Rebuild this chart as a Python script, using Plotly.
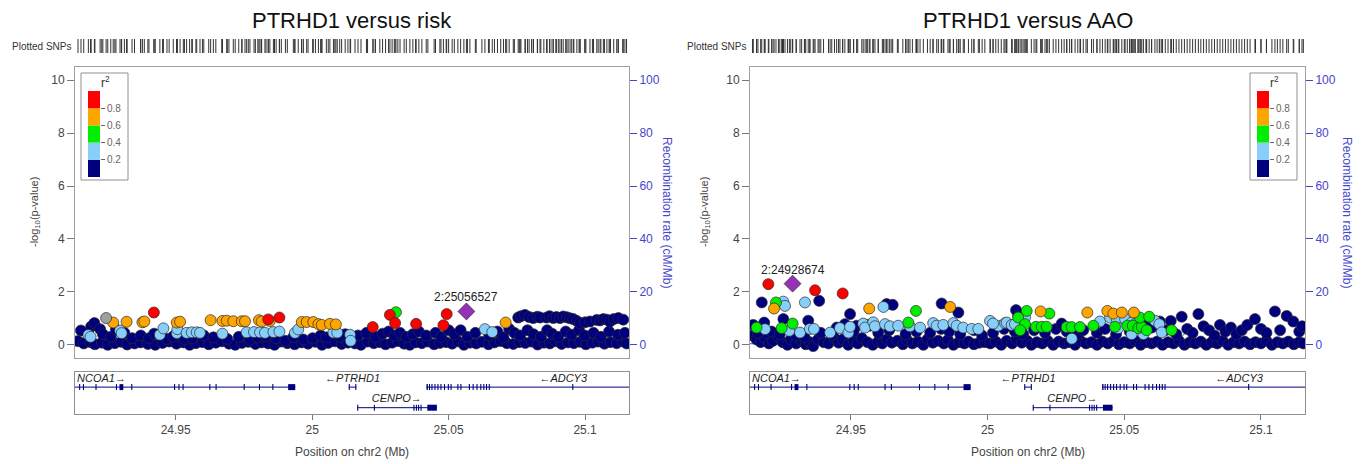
import plotly.graph_objects as go

# ---------------------------------------------------------------- data
X_RANGE = [24.9131, 25.1161]
P_RANGE = [-0.5, 10.5]
RECOMB_RANGE = [-5, 105]
P_TICKS = [0, 2, 4, 6, 8, 10]
RECOMB_TICKS = [0, 20, 40, 60, 80, 100]
POS_TICKS = [24.95, 25.0, 25.05, 25.1]
POS_TICK_TEXT = ["24.95", "25", "25.05", "25.1"]
R2_BREAKS = [0.2, 0.4, 0.6, 0.8]
R2_BREAK_TEXT = ["0.2", "0.4", "0.6", "0.8"]

# recombination rate (cM/Mb)
RECOMB = [(24.9100, 0.4), (24.9300, 0.3), (24.9500, 0.5), (24.9750, 0.3), (25.0000, 0.4),
          (25.0250, 0.6), (25.0500, 0.5), (25.0680, 0.6), (25.0715, 3.5), (25.0736, 6.3),
          (25.0755, 3.0), (25.0790, 0.7), (25.0930, 0.8), (25.0965, 2.0), (25.1000, 0.7),
          (25.1200, 0.5)]

# ---- PTRHD1 versus risk : (position Mb, -log10 p)
RISK_NAVY = [
    (24.9142, 0.14), (24.9163, 0.05), (24.9188, 0.10), (24.9204, 0.02), (24.9229, 0.08), (24.9251, 0.00), (24.9277, 0.06), (24.9301, 0.11), (24.9322, 0.01), (24.9349, 0.05),
    (24.9371, 0.09), (24.9398, 0.03), (24.9425, 0.00), (24.9452, 0.07), (24.9476, 0.12), (24.9503, 0.04), (24.9528, 0.09), (24.9551, 0.00), (24.9574, 0.06), (24.9598, 0.10),
    (24.9621, 0.02), (24.9647, 0.08), (24.9669, 0.13), (24.9695, 0.04), (24.9718, 0.00), (24.9743, 0.07), (24.9766, 0.11), (24.9792, 0.03), (24.9814, 0.09), (24.9839, 0.05),
    (24.9862, 0.00), (24.9887, 0.12), (24.9909, 0.06), (24.9936, 0.02), (24.9961, 0.09), (24.9985, 0.04), (25.0012, 0.11), (25.0036, 0.00), (25.0059, 0.07), (25.0083, 0.13),
    (25.0108, 0.03), (25.0131, 0.08), (25.0157, 0.05), (25.0179, 0.00), (25.0203, 0.12), (25.0226, 0.06), (25.0248, 0.10), (25.0269, 0.02), (25.0293, 0.08), (25.0314, 0.14),
    (25.0337, 0.04), (25.0358, 0.00), (25.0379, 0.09), (25.0402, 0.06), (25.0424, 0.12), (25.0447, 0.02), (25.0468, 0.07), (25.0491, 0.10), (25.0513, 0.04), (25.0534, 0.13),
    (25.0556, 0.00), (25.0578, 0.08), (25.0601, 0.05), (25.0622, 0.11), (25.0646, 0.02), (25.0668, 0.09), (25.0691, 0.14), (25.0713, 0.06), (25.0737, 0.03), (25.0759, 0.10),
    (25.0781, 0.07), (25.0804, 0.12), (25.0826, 0.01), (25.0849, 0.08), (25.0871, 0.05), (25.0893, 0.13), (25.0914, 0.03), (25.0938, 0.09), (25.0959, 0.06), (25.0982, 0.11),
    (25.1003, 0.02), (25.1027, 0.08), (25.1048, 0.12), (25.1071, 0.04), (25.1093, 0.10), (25.1116, 0.06), (25.1138, 0.13), (25.1152, 0.05),
    (24.9153, 0.54), (24.9190, 0.69), (24.9202, 0.82), (24.9223, 0.59), (24.9233, 0.40), (24.9262, 0.30), (24.9281, 0.57), (24.9312, 0.45), (24.9340, 0.25), (24.9372, 0.35),
    (24.9402, 0.25), (24.9421, 0.42), (24.9468, 0.22), (24.9491, 0.32), (24.9532, 0.20), (24.9561, 0.25), (24.9603, 0.35), (24.9638, 0.28), (24.9689, 0.22), (24.9731, 0.30),
    (24.9772, 0.18), (24.9801, 0.28), (24.9831, 0.32), (24.9868, 0.25), (24.9902, 0.15), (24.9931, 0.30), (24.9968, 0.20), (25.0002, 0.25), (25.0031, 0.35), (25.0052, 0.28),
    (25.0101, 0.30), (25.0121, 0.40), (25.0168, 0.35), (25.0199, 0.45), (25.0232, 0.30), (25.0258, 0.42), (25.0280, 0.50), (25.0301, 0.35), (25.0322, 0.45), (25.0345, 0.30),
    (25.0369, 0.40), (25.0391, 0.50), (25.0418, 0.35), (25.0452, 0.45), (25.0472, 0.30), (25.0500, 0.55), (25.0521, 0.40), (25.0544, 0.55), (25.0569, 0.30), (25.0598, 0.45),
    (25.0649, 0.35), (25.0679, 0.50), (25.0701, 0.28), (25.0722, 0.60), (25.0741, 0.45), (25.0762, 0.35), (25.0789, 0.55), (25.0811, 0.40), (25.0838, 0.30), (25.0861, 0.55),
    (25.0879, 0.42), (25.0902, 0.30), (25.0929, 0.50), (25.0951, 0.38), (25.0978, 0.55), (25.0999, 0.35), (25.1031, 0.45), (25.1058, 0.30), (25.1088, 0.50), (25.1121, 0.38),
    (25.1146, 0.45),
    (25.0755, 1.03), (25.0765, 1.08), (25.0780, 1.13), (25.0795, 1.05), (25.0810, 1.01), (25.0825, 1.06), (25.0835, 1.03), (25.0859, 1.03), (25.0870, 1.08), (25.0884, 1.01),
    (25.0895, 1.05), (25.0908, 1.01), (25.0920, 1.07), (25.0933, 1.04), (25.0945, 1.00), (25.0957, 0.97), (25.0970, 0.90), (25.0981, 0.82), (25.1000, 0.85), (25.1018, 0.88),
    (25.1043, 0.94), (25.1055, 0.92), (25.1067, 0.97), (25.1080, 0.95), (25.1091, 0.88), (25.1105, 0.97), (25.1122, 1.01), (25.1140, 0.95),
]
RISK_LIGHTBLUE = [
    (24.9180, 0.37), (24.9188, 0.30), (24.9296, 0.54), (24.9302, 0.44), (24.9442, 0.38), (24.9455, 0.62), (24.9504, 0.44), (24.9506, 0.59), (24.9540, 0.45), (24.9559, 0.47),
    (24.9577, 0.47), (24.9589, 0.45), (24.9671, 0.42), (24.9760, 0.47), (24.9787, 0.48), (24.9809, 0.47), (24.9827, 0.45), (24.9858, 0.48), (24.9880, 0.50), (24.9937, 0.45),
    (24.9949, 0.58), (25.0078, 0.46), (25.0092, 0.46), (25.0139, 0.38), (25.0141, 0.15), (25.0633, 0.59), (25.0660, 0.48),
]
RISK_GREEN = [(25.0307, 1.23)]
RISK_ORANGE = [
    (24.9271, 0.84), (24.9320, 0.87), (24.9378, 0.85), (24.9385, 0.88), (24.9504, 0.84), (24.9516, 0.87), (24.9628, 0.93), (24.9671, 0.90), (24.9687, 0.91), (24.9711, 0.89),
    (24.9742, 0.89), (24.9754, 0.89), (24.9805, 0.93), (24.9815, 0.88), (24.9845, 0.90), (24.9962, 0.86), (24.9980, 0.86), (25.0004, 0.86), (25.0023, 0.78), (25.0035, 0.75),
    (25.0065, 0.79), (25.0087, 0.77), (25.0709, 0.84),
]
RISK_RED = [(24.9420, 1.22), (24.9839, 0.96), (24.9880, 1.03), (25.0222, 0.67), (25.0285, 1.13),
            (25.0304, 0.82), (25.0381, 0.79), (25.0493, 1.16), (25.0481, 0.74)]
RISK_NA = [(24.9245, 1.01)]
RISK_LEAD = [(25.056527, 1.26)]
RISK_LEAD_LABEL = "2:25056527"

# ---- PTRHD1 versus AAO
AAO_NAVY = [
    (24.9140, 0.35), (24.9155, 0.20), (24.9170, 0.10), (24.9185, 0.25), (24.9200, 0.05), (24.9215, 0.15), (24.9235, 0.30), (24.9250, 0.10), (24.9268, 0.00), (24.9280, 0.20),
    (24.9300, 0.05), (24.9320, 0.15), (24.9335, 0.02), (24.9350, 0.10), (24.9362, -0.05), (24.9380, 0.20), (24.9400, 0.10), (24.9418, 0.05), (24.9440, 0.25), (24.9455, 0.08),
    (24.9470, 0.20), (24.9490, 0.00), (24.9510, 0.15), (24.9525, 0.05), (24.9540, 0.25), (24.9560, 0.10), (24.9580, 0.00), (24.9600, 0.12), (24.9615, 0.05), (24.9632, 0.20),
    (24.9650, 0.08), (24.9670, 0.15), (24.9690, 0.02), (24.9705, 0.18), (24.9725, 0.05), (24.9745, 0.12), (24.9765, 0.00), (24.9780, 0.20), (24.9800, 0.08), (24.9820, 0.15),
    (24.9840, 0.05), (24.9855, 0.18), (24.9875, 0.00), (24.9895, 0.10), (24.9915, 0.05), (24.9930, 0.12), (24.9950, 0.02), (24.9970, 0.08), (24.9990, 0.10), (25.0010, 0.05),
    (25.0030, 0.12), (25.0050, 0.00), (25.0070, 0.15), (25.0090, 0.05), (25.0105, 0.20), (25.0125, 0.08), (25.0145, 0.15), (25.0160, 0.00), (25.0180, 0.10), (25.0200, 0.05),
    (25.0220, 0.15), (25.0240, 0.00), (25.0260, 0.12), (25.0280, 0.05), (25.0300, 0.10), (25.0320, 0.00), (25.0340, 0.15), (25.0360, 0.05), (25.0380, 0.10), (25.0400, 0.00),
    (25.0420, 0.12), (25.0440, 0.05), (25.0460, 0.15), (25.0480, 0.02), (25.0500, 0.10), (25.0520, 0.05), (25.0540, 0.15), (25.0560, 0.00), (25.0580, 0.10), (25.0600, 0.05),
    (25.0620, 0.12), (25.0640, 0.00), (25.0660, 0.10), (25.0680, 0.05), (25.0700, 0.15), (25.0720, 0.00), (25.0740, 0.10), (25.0760, 0.05), (25.0780, 0.12), (25.0800, 0.00),
    (25.0820, 0.10), (25.0840, 0.05), (25.0860, 0.15), (25.0880, 0.00), (25.0900, 0.10), (25.0920, 0.05), (25.0940, 0.12), (25.0960, 0.02), (25.0980, 0.10), (25.1000, 0.05),
    (25.1020, 0.15), (25.1040, 0.00), (25.1060, 0.10), (25.1080, 0.05), (25.1100, 0.12), (25.1120, 0.02), (25.1140, 0.10), (25.1155, 0.05),
    (24.9143, 0.75), (24.9183, 0.84), (24.9253, 0.97), (24.9344, 0.91), (24.9448, 0.65), (24.9478, 0.78), (24.9521, 0.72), (24.9558, 0.75), (24.9570, 0.72), (24.9160, 0.45),
    (24.9210, 0.50), (24.9240, 0.40), (24.9300, 0.35), (24.9330, 0.30), (24.9390, 0.45), (24.9430, 0.38), (24.9510, 0.50), (24.9600, 0.45), (24.9640, 0.55), (24.9700, 0.40),
    (24.9740, 0.50), (24.9790, 0.45), (24.9830, 0.60), (24.9860, 0.50), (24.9900, 0.40), (24.9950, 0.55), (24.9980, 0.35), (25.0020, 0.45), (25.0060, 0.60), (25.0100, 0.50),
    (25.0130, 0.40), (25.0170, 0.55), (25.0210, 0.45), (25.0250, 0.60), (25.0271, 0.80), (25.0290, 0.50), (25.0330, 0.40), (25.0350, 0.55), (25.0400, 0.45), (25.0430, 0.60),
    (25.0470, 0.40), (25.0520, 0.50), (25.0550, 0.85), (25.0580, 0.80), (25.0600, 0.65), (25.0630, 0.88), (25.0650, 0.55), (25.0670, 0.90), (25.0690, 0.40), (25.0710, 1.06),
    (25.0730, 0.60), (25.0750, 0.45), (25.0771, 1.16), (25.0790, 0.70), (25.0810, 0.55), (25.0830, 0.35), (25.0850, 0.75), (25.0870, 0.50), (25.0890, 0.65), (25.0910, 0.40),
    (25.0930, 0.55), (25.0950, 0.75), (25.0978, 0.97), (25.1000, 0.60), (25.1020, 0.45), (25.1051, 1.26), (25.1070, 0.55), (25.1094, 1.09), (25.1118, 0.88), (25.1140, 0.50),
    (25.1150, 0.70),
    (24.9174, 1.60), (24.9384, 1.66), (24.9497, 1.16), (24.9631, 1.54), (24.9653, 1.51), (24.9832, 1.56), (24.9893, 1.22), (25.0104, 1.31), (25.0112, 1.09),
]
AAO_LIGHTBLUE = [
    (24.9186, 0.59), (24.9253, 1.63), (24.9259, 1.47), (24.9332, 1.60), (24.9619, 1.43), (24.9275, 0.53), (24.9314, 0.46), (24.9350, 0.60), (24.9365, 0.60), (24.9424, 0.46),
    (24.9460, 0.63), (24.9491, 0.46), (24.9497, 0.68), (24.9545, 0.80), (24.9552, 0.65), (24.9582, 0.85), (24.9588, 0.70), (24.9625, 0.78), (24.9643, 0.70), (24.9673, 0.72),
    (24.9716, 0.70), (24.9753, 0.65), (24.9801, 0.82), (24.9814, 0.72), (24.9838, 0.75), (24.9875, 0.82), (24.9887, 0.72), (24.9911, 0.65), (24.9942, 0.60), (24.9966, 0.60),
    (25.0009, 0.90), (25.0039, 0.72), (25.0064, 0.82), (25.0070, 0.84), (25.0088, 0.75), (25.0100, 0.78), (25.0137, 1.03), (25.0020, 0.80), (25.0411, 0.88), (25.0448, 1.03),
    (25.0472, 0.97), (25.0503, 0.97), (25.0527, 0.84), (25.0539, 0.78), (25.0612, 0.91), (25.0628, 0.78), (25.0637, 0.47), (25.0570, 0.40), (25.0527, 0.40), (25.0478, 0.63),
    (25.0308, 0.23),
]
AAO_GREEN = [
    (24.9226, 1.60), (24.9155, 0.65), (24.9247, 0.63), (24.9287, 0.80), (24.9738, 1.28), (24.9710, 0.84), (25.0143, 1.28), (25.0112, 1.03), (25.0137, 0.78), (25.0119, 0.55),
    (25.0226, 1.18), (25.0177, 0.68), (25.0198, 0.68), (25.0216, 0.68), (25.0289, 0.67), (25.0307, 0.67), (25.0338, 0.67), (25.0387, 0.72), (25.0466, 0.68), (25.0511, 0.72),
    (25.0531, 0.72), (25.0551, 0.63), (25.0564, 0.68), (25.0582, 0.55), (25.0557, 1.03), (25.0591, 1.06), (25.0673, 0.55),
]
AAO_ORANGE = [(24.9219, 1.37), (24.9567, 1.37), (24.9863, 1.43), (25.0194, 1.26), (25.0365, 1.22),
              (25.0438, 1.28), (25.0460, 1.18), (25.0491, 1.22), (25.0535, 1.22)]
AAO_RED = [(24.9198, 2.29), (24.9369, 2.06), (24.9470, 1.94)]
AAO_NA = []
AAO_LEAD = [(24.928674, 2.31)]
AAO_LEAD_LABEL = "2:24928674"

# ---- genes (Mb)
GENE_NAMES = ["NCOA1", "PTRHD1", "ADCY3", "CENPO"]
GENE_LABELS = ["NCOA1\u2192", "\u2190PTRHD1", "\u2190ADCY3", "CENPO\u2192"]
GENE_START = [24.9100, 25.0134, 25.0419, 25.0166]
GENE_END = [24.9938, 25.0162, 25.1250, 25.0457]
GENE_ROW = [1, 1, 1, 2]
GENE_LABEL_POS = [24.9228, 25.0148, 25.0920, 25.0310]
EXONS = [  # (gene index, start, end)
    (0, 24.9146, 24.9150), (0, 24.9160, 24.9164), (0, 24.9206, 24.9210), (0, 24.9281, 24.9285), (0, 24.9294, 24.9308),
    (0, 24.9337, 24.9341), (0, 24.9494, 24.9498), (0, 24.9510, 24.9514), (0, 24.9525, 24.9529), (0, 24.9623, 24.9627),
    (0, 24.9646, 24.9650), (0, 24.9749, 24.9753), (0, 24.9805, 24.9809), (0, 24.9854, 24.9858), (0, 24.9912, 24.9938),
    (1, 25.0134, 25.0138), (1, 25.0158, 25.0162),
    (2, 25.0419, 25.0424), (2, 25.0428, 25.0432), (2, 25.0437, 25.0441), (2, 25.0448, 25.0452), (2, 25.0459, 25.0463),
    (2, 25.0470, 25.0474), (2, 25.0483, 25.0487), (2, 25.0497, 25.0501), (2, 25.0507, 25.0511), (2, 25.0532, 25.0536),
    (2, 25.0543, 25.0547), (2, 25.0574, 25.0578), (2, 25.0588, 25.0592), (2, 25.0602, 25.0606), (2, 25.0616, 25.0620),
    (2, 25.0627, 25.0631), (2, 25.0637, 25.0641), (2, 25.0647, 25.0651), (2, 25.0953, 25.0957),
    (3, 25.0165, 25.0169), (3, 25.0226, 25.0230), (3, 25.0371, 25.0375), (3, 25.0380, 25.0384), (3, 25.0388, 25.0392),
    (3, 25.0397, 25.0401), (3, 25.0422, 25.0457),
]

# ---------------------------------------------------------------- style
FONT = "Liberation Sans, Arial, Helvetica, sans-serif"
W, H = 1364, 464
NAVY = "#00007F"
CLASS_COLORS = ["#00007F", "#87CEFA", "#00EE00", "#FFA500", "#FF0000"]
NA_COLOR = "#A0A0A0"
LEAD_COLOR = "#9632B8"
RECOMB_COLOR = "#4646CC"
FRAME = "#A0A0A0"
TEXT = "#444444"


def fx(px):
    return px / W


def fy(py):
    return 1 - py / H


def unzip(pairs):
    return [p[0] for p in pairs], [p[1] for p in pairs]


PANELS = [
    dict(title="PTRHD1 versus risk", left=75, right=629, legend_left=81, bar_left=88,
         ylab_px=35, rlab_px=667,
         classes=[RISK_NAVY, RISK_LIGHTBLUE, RISK_GREEN, RISK_ORANGE, RISK_RED],
         na=RISK_NA, lead=RISK_LEAD, lead_label=RISK_LEAD_LABEL),
    dict(title="PTRHD1 versus AAO", left=750, right=1305, legend_left=1250, bar_left=1257,
         ylab_px=705, rlab_px=1347,
         classes=[AAO_NAVY, AAO_LIGHTBLUE, AAO_GREEN, AAO_ORANGE, AAO_RED],
         na=AAO_NA, lead=AAO_LEAD, lead_label=AAO_LEAD_LABEL),
]

MAIN_DOM = [fy(358), fy(67)]
GENE_DOM = [fy(414), fy(372)]
RUG_DOM = [fy(53), fy(39)]
LEG_DOM = [fy(177), fy(91)]
ROW_Y = {1: 0.64, 2: 0.15}
ROW_LABEL_Y = {1: 0.83, 2: 0.34}


def ax(n, kind):
    return kind if n == 1 else f"{kind}{n}"


def lay(n, kind):
    return f"{kind}axis" if n == 1 else f"{kind}axis{n}"


def note(x, y, text, size, color, **kw):
    d = dict(x=x, y=y, xref="paper", yref="paper", text=text, showarrow=False,
             xanchor="center", yanchor="middle", font=dict(size=size, color=color))
    d.update(kw)
    return d


fig = go.Figure()
layout = dict(width=W, height=H, margin=dict(l=0, r=0, t=0, b=0),
              paper_bgcolor="white", plot_bgcolor="white", showlegend=False,
              barmode="overlay", font=dict(family=FONT, color=TEXT),
              annotations=[], shapes=[])

for i, P in enumerate(PANELS):
    b = i * 5
    xm, yr, yp, xg, xr, xl = b + 1, b + 1, b + 2, b + 3, b + 4, b + 5
    xdom = [fx(P["left"]), fx(P["right"])]

    layout[lay(xm, "x")] = dict(domain=xdom, range=X_RANGE, anchor=ax(yr, "y"), showline=True, mirror=True,
                                linecolor=FRAME, linewidth=1, showticklabels=False, ticks="",
                                showgrid=False, zeroline=False)
    layout[lay(yr, "y")] = dict(domain=MAIN_DOM, range=RECOMB_RANGE, anchor=ax(xm, "x"), side="right",
                                tickvals=RECOMB_TICKS, ticks="outside", ticklen=7, tickcolor=RECOMB_COLOR,
                                tickfont=dict(size=12, color=RECOMB_COLOR), showline=True, linecolor=FRAME,
                                showgrid=False, zeroline=False)
    layout[lay(yp, "y")] = dict(range=P_RANGE, overlaying=ax(yr, "y"), anchor=ax(xm, "x"), side="left",
                                tickvals=P_TICKS, ticks="outside", ticklen=7, tickcolor="#777",
                                tickfont=dict(size=12, color=TEXT), showline=True, linecolor=FRAME,
                                showgrid=False, zeroline=False)
    layout[lay(xg, "x")] = dict(domain=xdom, range=X_RANGE, anchor=ax(xg, "y"), tickvals=POS_TICKS,
                                ticktext=POS_TICK_TEXT, ticks="outside", ticklen=5, tickcolor="#777",
                                tickfont=dict(size=12, color=TEXT), showline=True, mirror=True,
                                linecolor="#909090", showgrid=False, zeroline=False)
    layout[lay(xg, "y")] = dict(domain=GENE_DOM, range=[0, 1], anchor=ax(xg, "x"), showticklabels=False,
                                ticks="", showline=True, mirror=True, linecolor="#909090",
                                showgrid=False, zeroline=False)
    layout[lay(xr, "x")] = dict(domain=xdom, range=X_RANGE, anchor=ax(xr, "y"), visible=False)
    layout[lay(xr, "y")] = dict(domain=RUG_DOM, range=[0, 1], anchor=ax(xr, "x"), visible=False)
    layout[lay(xl, "x")] = dict(domain=[fx(P["bar_left"]), fx(P["bar_left"] + 12)], range=[-0.5, 0.5],
                                anchor=ax(xl, "y"), visible=False)
    layout[lay(xl, "y")] = dict(domain=LEG_DOM, range=[0, 1], anchor=ax(xl, "x"), side="right",
                                tickvals=R2_BREAKS, ticktext=R2_BREAK_TEXT, ticks="outside", ticklen=4,
                                tickcolor="#666", tickfont=dict(size=10, color="#666"),
                                showline=False, showgrid=False, zeroline=False)

    # recombination rate
    rx, ry = unzip(RECOMB)
    fig.add_trace(go.Scatter(x=rx, y=ry, mode="lines", line=dict(color=RECOMB_COLOR, width=1),
                             xaxis=ax(xm, "x"), yaxis=ax(yr, "y"), hoverinfo="skip"))

    # association points
    for cls, color in zip(P["classes"], CLASS_COLORS):
        if not cls:
            continue
        px_, py_ = unzip(cls)
        fig.add_trace(go.Scatter(x=px_, y=py_, mode="markers", xaxis=ax(xm, "x"), yaxis=ax(yp, "y"),
                                 marker=dict(symbol="circle", size=11, color=color,
                                             line=dict(color="#2a2a2a", width=0.7))))
    if P["na"]:
        px_, py_ = unzip(P["na"])
        fig.add_trace(go.Scatter(x=px_, y=py_, mode="markers", xaxis=ax(xm, "x"), yaxis=ax(yp, "y"),
                                 marker=dict(symbol="circle", size=11, color=NA_COLOR,
                                             line=dict(color="#2a2a2a", width=0.7))))
    lx, ly = unzip(P["lead"])
    fig.add_trace(go.Scatter(x=lx, y=ly, mode="markers", xaxis=ax(xm, "x"), yaxis=ax(yp, "y"),
                             marker=dict(symbol="diamond", size=13, color=LEAD_COLOR,
                                         line=dict(color="#2a2a2a", width=0.7))))
    layout["annotations"].append(dict(x=lx[0], y=ly[0], xref=ax(xm, "x"), yref=ax(yp, "y"),
                                      text=P["lead_label"], showarrow=False, yshift=14,
                                      xanchor="center", yanchor="middle",
                                      font=dict(size=12, color="#222")))

    # plotted SNPs rug
    rug = []
    for cls in P["classes"] + [P["na"], P["lead"]]:
        rug += [p[0] for p in cls]
    fig.add_trace(go.Scatter(x=rug, y=[0.5] * len(rug), mode="markers", xaxis=ax(xr, "x"), yaxis=ax(xr, "y"),
                             marker=dict(symbol="line-ns", size=13, line=dict(color="#333", width=1))))

    # genes
    gx, gy = [], []
    for s, e, r in zip(GENE_START, GENE_END, GENE_ROW):
        gx += [s, e, None]
        gy += [ROW_Y[r], ROW_Y[r], None]
    fig.add_trace(go.Scatter(x=gx, y=gy, mode="lines", line=dict(color=NAVY, width=1),
                             xaxis=ax(xg, "x"), yaxis=ax(xg, "y"), hoverinfo="skip"))
    ex, ey = [], []
    for g, s, e in EXONS:
        r = GENE_ROW[g]
        ex += [s, e, None]
        ey += [ROW_Y[r], ROW_Y[r], None]
    fig.add_trace(go.Scatter(x=ex, y=ey, mode="lines", line=dict(color=NAVY, width=6),
                             xaxis=ax(xg, "x"), yaxis=ax(xg, "y"), hoverinfo="skip"))
    fig.add_trace(go.Scatter(x=GENE_LABEL_POS, y=[ROW_LABEL_Y[r] for r in GENE_ROW],
                             text=[f"<i>{t}</i>" for t in GENE_LABELS], mode="text",
                             textfont=dict(size=11, color="#222"), xaxis=ax(xg, "x"), yaxis=ax(xg, "y")))

    # r2 legend
    for k, color in enumerate(CLASS_COLORS):
        fig.add_trace(go.Bar(x=[0], y=[0.2], base=[0.2 * k], width=1, marker=dict(color=color, line=dict(width=0)),
                             xaxis=ax(xl, "x"), yaxis=ax(xl, "y"), hoverinfo="skip"))
    layout["shapes"].append(dict(type="rect", xref="paper", yref="paper",
                                 x0=fx(P["legend_left"]), x1=fx(P["legend_left"] + 47),
                                 y0=fy(180), y1=fy(73), line=dict(color="#909090", width=1)))
    layout["annotations"].append(note(fx(P["bar_left"] + 17), fy(82), "r<sup>2</sup>", 12, "#333"))

    # texts
    cx = fx((P["left"] + P["right"]) / 2)
    layout["annotations"] += [
        note(cx, fy(20), P["title"], 22, "#111"),
        note(fx(P["left"] - 65), fy(46), "Plotted SNPs", 10, "#333", xanchor="left"),
        note(cx, fy(452), "Position on chr2 (Mb)", 12, TEXT),
        note(fx(P["ylab_px"]), fy(212), "-log<sub>10</sub>(p-value)", 11, TEXT, textangle=-90),
        note(fx(P["rlab_px"]), fy(212), "Recombination rate (cM/Mb)", 12, RECOMB_COLOR, textangle=90),
    ]

fig.update_layout(**layout)
fig.write_html("out.html", config={"displayModeBar": False},
               post_script="document.body.style.margin='0px';")
